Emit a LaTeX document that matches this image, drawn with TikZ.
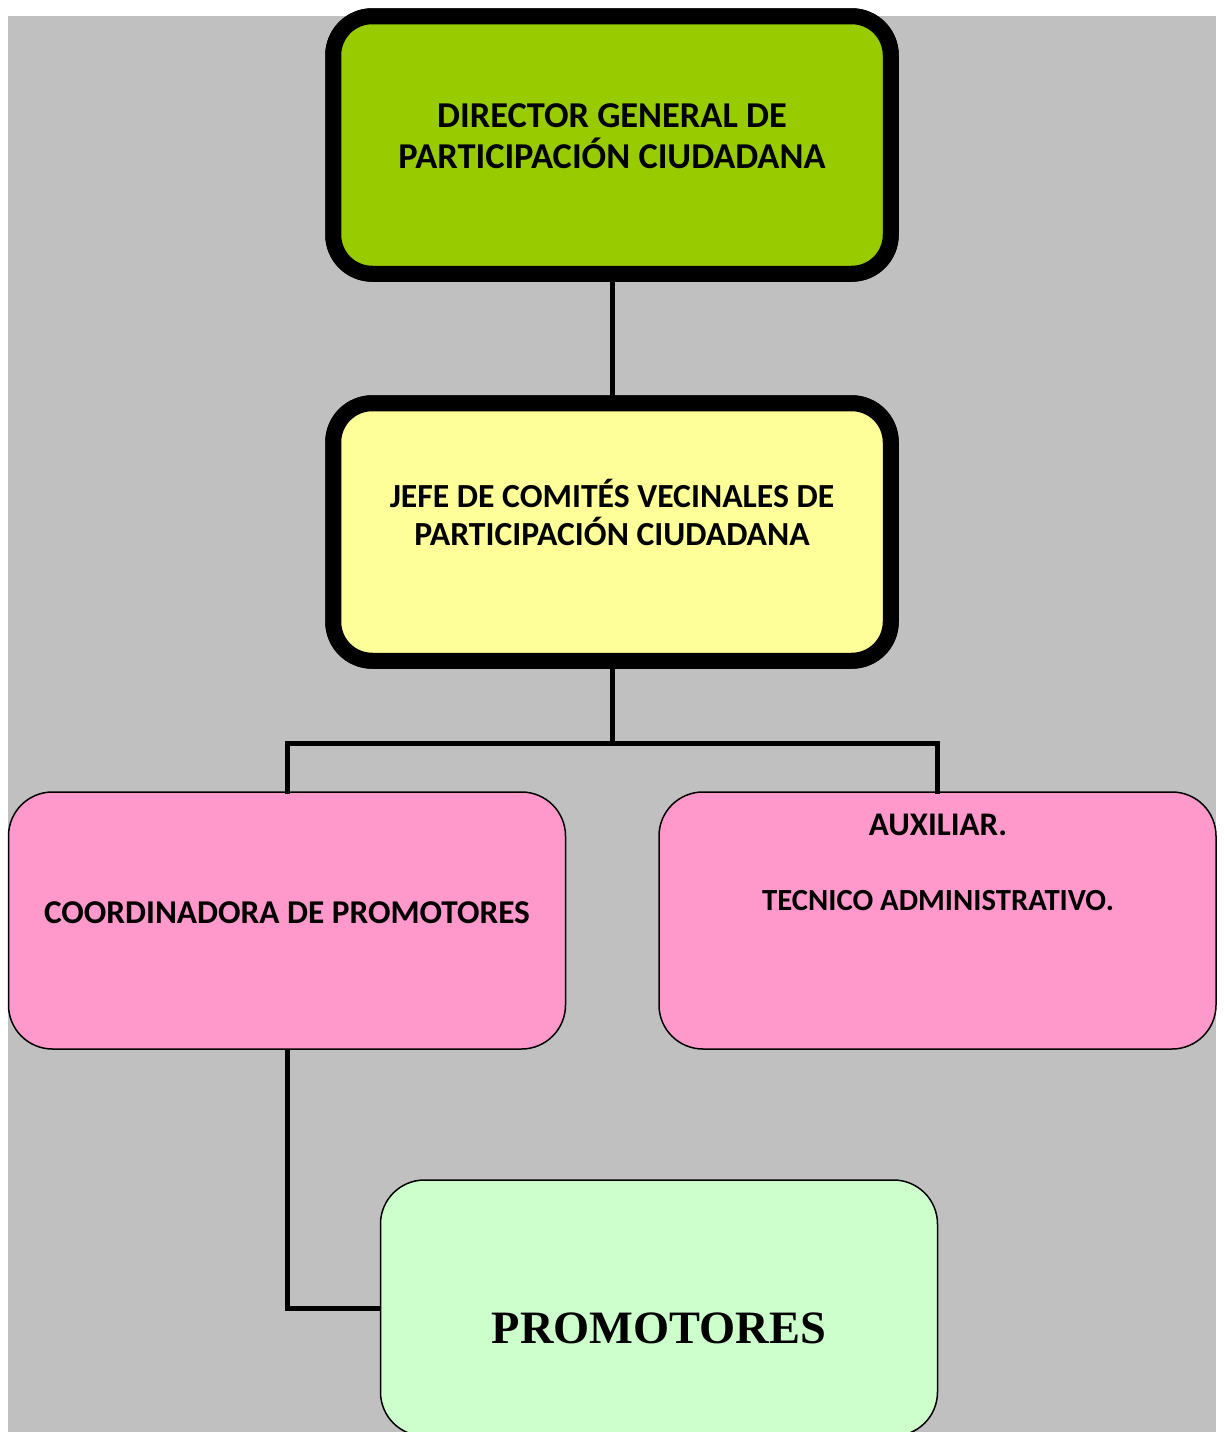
\documentclass[tikz,border=0pt]{standalone}
\usepackage{fontspec}
\setmainfont{Carlito}
\newfontfamily\serifb{Liberation Serif}
\definecolor{bggray}{RGB}{192,192,192}
\definecolor{topgreen}{RGB}{153,204,0}
\definecolor{midyellow}{RGB}{255,255,153}
\definecolor{pinkbox}{RGB}{255,153,204}
\definecolor{lightgreen}{RGB}{204,255,204}
\begin{document}
\begin{tikzpicture}[x=1pt,y=-1pt,
  bigbox/.style={draw=black,line width=16pt,rounded corners=39pt,inner sep=0pt,minimum width=557.5pt,minimum height=257.5pt},
  thinbox/.style={draw=black,line width=1.5pt,rounded corners=44pt,inner sep=0pt,minimum width=557pt,minimum height=257pt},
  lbl/.style={anchor=base,inner sep=0pt,font=\bfseries},
  conn/.style={line width=5pt,line cap=rect}]
\useasboundingbox (0,0) rectangle (1224,1432);
\fill[white] (0,0) rectangle (1224,1432);
\fill[bggray] (8,16) rectangle (1216,1432);
\coordinate (bar) at (612,743);
% boxes
\node[bigbox,fill=topgreen] (dir) at (612,145) {};
\node[bigbox,fill=midyellow] (jefe) at (612,532) {};
\node[thinbox,fill=pinkbox] (coord) at (287,920.5) {};
\node[thinbox,fill=pinkbox] (aux) at (937.5,920.5) {};
\begin{scope}
\clip (0,0) rectangle (1224,1432);
\node[thinbox,fill=lightgreen,minimum height=256pt] (prom) at (659,1308) {};
\end{scope}
% connectors
\draw[conn] (dir.south) -- (jefe.north);
\draw[conn] (jefe.south) -- (bar);
\draw[conn] (coord.north |- bar) -- (aux.north |- bar);
\draw[conn] (coord.north |- bar) -- (coord.north);
\draw[conn] (aux.north |- bar) -- (aux.north);
\draw[conn,line cap=butt] (coord.south) |- (prom.west);
% redraw thick boxes over connector ends
\node[bigbox,fill=topgreen] (dirtop) at (612,145) {};
\node[bigbox,fill=midyellow] (jefetop) at (612,532) {};
% labels
\node[lbl,font=\bfseries\fontsize{36.4}{40}\selectfont] (t1) at (612,127) {DIRECTOR GENERAL DE};
\node[lbl,font=\bfseries\fontsize{36.4}{40}\selectfont] (t2) at (612,168) {PARTICIPACIÓN CIUDADANA};
\node[lbl,font=\bfseries\fontsize{33.7}{40}\selectfont] (t3) at (612,507) {JEFE DE COMITÉS VECINALES DE};
\node[lbl,font=\bfseries\fontsize{33.7}{40}\selectfont] (t4) at (612,545) {PARTICIPACIÓN CIUDADANA};
\node[lbl,font=\bfseries\fontsize{33.3}{40}\selectfont] (t5) at (287,923) {COORDINADORA DE PROMOTORES};
\node[lbl,font=\bfseries\fontsize{33}{40}\selectfont] (t6) at (938,835) {AUXILIAR.};
\node[lbl,font=\bfseries\fontsize{30.7}{40}\selectfont] (t7) at (938,910) {TECNICO ADMINISTRATIVO.};
\node[lbl,font=\serifb\bfseries\fontsize{46.4}{50}\selectfont] (t8) at (659,1343) {PROMOTORES};
\end{tikzpicture}
\end{document}
